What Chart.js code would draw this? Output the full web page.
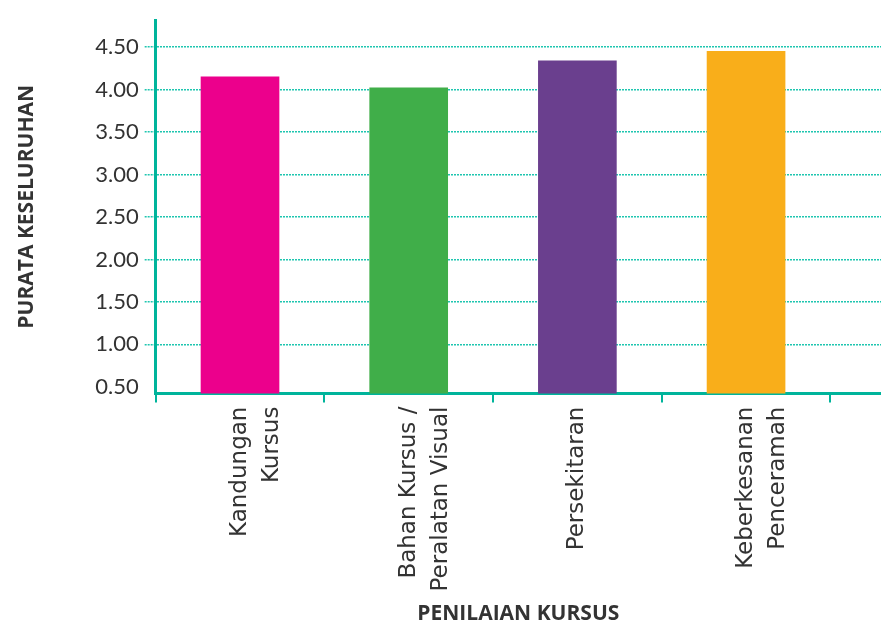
<!DOCTYPE html>
<html>
<head>
<meta charset="utf-8">
<script src="https://cdn.jsdelivr.net/npm/chart.js@4"></script>
<style>
  body { margin: 0; background: #fff; }
  #wrap { width: 881px; height: 631px; }
</style>
</head>
<body>
<div id="wrap"><canvas id="chart" width="881" height="631"></canvas></div>
<script>
// data
const categories = [['Kandungan', 'Kursus'], ['Bahan Kursus /', 'Peralatan Visual'], ['Persekitaran'], ['Keberkesanan', 'Penceramah']];
const scores = [4.15, 4.02, 4.34, 4.45];
const barColors = ['#ec008c', '#40ae49', '#6a3f8e', '#f9ae1a'];
const yTicks = [0.5, 1.0, 1.5, 2.0, 2.5, 3.0, 3.5, 4.0, 4.5];

const teal = '#00b49b';
const dotTeal = '#1fc6b0';
const titleFont = '"Open Sans", sans-serif';

new Chart(document.getElementById('chart'), {
    type: 'bar',
    data: {
        labels: categories,
        datasets: [{
            data: scores,
            backgroundColor: barColors,
            barThickness: 78
        }]
    },
    options: {
        responsive: false,
        animation: false,
        layout: { padding: { top: 20, right: 0, left: 10, bottom: 0 } },
        plugins: { legend: { display: false }, tooltip: { enabled: false } },
        scales: {
            x: {
                // leave some empty room on the right like the original
                afterBuildTicks: (scale) => { scale._valueRange = 4.3; },
                border: { color: teal, width: 3 },
                grid: { drawOnChartArea: false, color: teal, lineWidth: 2, tickLength: 9, offset: true },
                ticks: {
                    color: '#333',
                    font: { family: '"DejaVu Sans", sans-serif', size: 23, lineHeight: 1.4 },
                    minRotation: 90, maxRotation: 90, autoSkip: false, padding: 4
                },
                title: {
                    display: true, text: 'PENILAIAN KURSUS', color: '#333',
                    font: { family: titleFont, size: 21, weight: 'bold', lineHeight: 0.5 },
                    padding: { top: 13, bottom: 12 }
                }
            },
            y: {
                min: 0.42,
                max: 4.82,
                afterBuildTicks: (scale) => { scale.ticks = yTicks.map(v => ({ value: v })); },
                border: { color: teal, width: 3, dash: [2, 1] },
                grid: {
                    color: (ctx) => ctx.tick && ctx.tick.value === 0.5 ? 'rgba(0,0,0,0)' : dotTeal,
                    tickColor: (ctx) => ctx.tick && ctx.tick.value === 0.5 ? 'rgba(0,0,0,0)' : dotTeal,
                    lineWidth: 1.5,
                    tickBorderDash: [2, 1],
                    tickLength: 11
                },
                ticks: {
                    color: '#333',
                    font: { family: 'Lato, sans-serif', size: 22 },
                    padding: 6,
                    callback: (v) => Number(v).toFixed(2)
                },
                title: {
                    display: true, text: 'PURATA KESELURUHAN', color: '#333',
                    font: { family: titleFont, size: 21, weight: 'bold' },
                    padding: { top: 4, bottom: 50 }
                }
            }
        }
    }
});
</script>
</body>
</html>
